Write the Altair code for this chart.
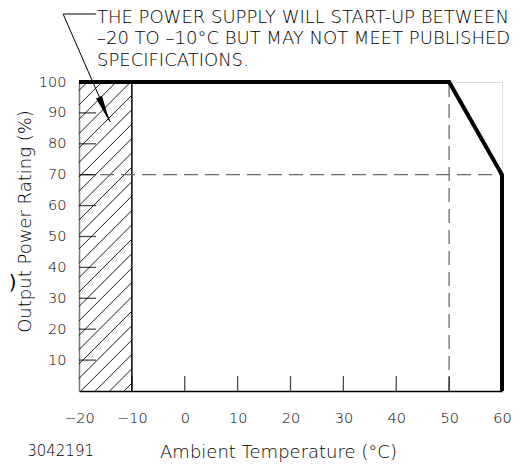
import altair as alt
import pandas as pd

# ---------------- data ----------------
curve_temp = [-20, 50, 60, 60]
curve_power = [100, 100, 70, 0]

x_label_values = [-20, -10, 0, 10, 20, 30, 40, 50, 60]
x_inner_ticks = [-10, 0, 10, 20, 30, 40, 50]
y_label_values = [10, 20, 30, 40, 50, 60, 70, 80, 90, 100]
y_inner_ticks = [10, 20, 30, 40, 50, 60, 70, 80, 90]

startup_range = [-20, -10]   # hatched start-up band (°C)
derate_temp = 50             # derating starts (°C)
derate_power = 70            # rating at 60 °C (%)

note_lines = [
    "THE POWER SUPPLY WILL START-UP BETWEEN",
    "\u201320 TO \u201310°C BUT MAY NOT MEET PUBLISHED",
    "SPECIFICATIONS.",
]
note_x = [-16.6, -16.6, -16.6]
note_y = [120.8, 113.8, 106.8]
leader_x = [-23.0, -14.1]
leader_y = [122.0, 87.1]
leader_shelf_x2 = -16.8
arrow_x, arrow_y = -15.2, 91.1
drawing_no = "3042191"

# ---------------- layout ----------------
W, H = 423, 309
X_DOM = [-20, 60]
Y_DOM = [0, 100]
FONT = "DejaVu Sans"
LIGHT = 200

xs = alt.Scale(domain=X_DOM, nice=False, zero=False)
ys = alt.Scale(domain=Y_DOM, nice=False, zero=False)

x_axis = alt.Axis(
    values=x_label_values, ticks=False, grid=False,
    domainColor="black", domainWidth=1.5,
    labelFont=FONT, labelFontSize=14.5, labelFontWeight=LIGHT, labelColor="black",
    labelPadding=20, labelFlush=False,
    title="Ambient Temperature (°C)", titleFont=FONT, titleFontSize=18,
    titleFontWeight=LIGHT, titleColor="black",
    titleX=199, titleY=61, titleAlign="center", titleBaseline="middle",
)
y_axis = alt.Axis(
    values=y_label_values, ticks=False, grid=False,
    domainColor="#7a7a7a", domainWidth=1.5,
    labelFont=FONT, labelFontSize=14.5, labelFontWeight=LIGHT, labelColor="black",
    labelPadding=13, labelFlush=False,
    title="Output Power Rating (%)", titleFont=FONT, titleFontSize=18,
    titleFontWeight=LIGHT, titleColor="black",
    titleX=-54, titleY=139, titleAngle=270, titleAlign="center",
    titleBaseline="middle",
)


def X(field):
    return alt.X(field, type="quantitative", scale=xs, axis=x_axis)


def Y(field):
    return alt.Y(field, type="quantitative", scale=ys, axis=y_axis)


# hatch lines at 45° (in pixels) across the start-up band
slope = (W / (X_DOM[1] - X_DOM[0])) / (H / (Y_DOM[1] - Y_DOM[0]))  # % per °C
step = 4.66
rows = []
b = -0.6 - step * 12
while b < 100:
    x0 = max(startup_range[0], startup_range[0] + (0 - b) / slope)
    x1 = min(startup_range[1], startup_range[0] + (100 - b) / slope)
    if x1 > x0:
        rows.append(dict(t=x0, t2=x1,
                         p=b + slope * (x0 - startup_range[0]),
                         p2=b + slope * (x1 - startup_range[0])))
    b += step
hatch_df = pd.DataFrame(rows)

hatch = alt.Chart(hatch_df).mark_rule(color="black", strokeWidth=0.9).encode(
    x=X("t"), x2="t2", y=Y("p"), y2="p2")

band_edge = alt.Chart(pd.DataFrame({"t": [startup_range[1]], "p": [0], "p2": [100]})).mark_rule(
    color="black", strokeWidth=1.5).encode(x=X("t"), y=Y("p"), y2="p2")

dash = dict(color="#6a6a6a", strokeWidth=1.3, strokeDash=[14, 7])
h_ref = alt.Chart(pd.DataFrame({"t": [X_DOM[0]], "t2": [X_DOM[1]], "p": [derate_power]})).mark_rule(
    **dash).encode(x=X("t"), x2="t2", y=Y("p"))
v_ref = alt.Chart(pd.DataFrame({"t": [derate_temp], "p": [0], "p2": [100]})).mark_rule(
    **dash).encode(x=X("t"), y=Y("p"), y2="p2")

ytick_df = pd.DataFrame({"p": y_inner_ticks, "t": [X_DOM[0]] * len(y_inner_ticks)})
yticks = alt.Chart(ytick_df).mark_tick(
    orient="horizontal", size=17, thickness=1.3, xOffset=8.5, color="black").encode(
    x=X("t"), y=Y("p"))

xtick_df = pd.DataFrame({"t": x_inner_ticks, "p": [0] * len(x_inner_ticks)})
xticks = alt.Chart(xtick_df).mark_tick(
    orient="vertical", size=15, thickness=1.3, yOffset=-7.5, color="black").encode(
    x=X("t"), y=Y("p"))

curve_df = pd.DataFrame({"t": curve_temp, "p": curve_power, "i": range(len(curve_temp))})
curve = alt.Chart(curve_df).mark_line(
    color="black", strokeWidth=4, strokeJoin="miter", strokeCap="butt").encode(
    x=X("t"), y=Y("p"), order="i:Q")

leader_df = pd.DataFrame({"t": [leader_x[0], leader_x[0]], "t2": [leader_x[1], leader_shelf_x2],
                          "p": [leader_y[0], leader_y[0]], "p2": [leader_y[1], leader_y[0]]})
leader = alt.Chart(leader_df).mark_rule(color="black", strokeWidth=1).encode(
    x=X("t"), x2="t2", y=Y("p"), y2="p2")

arrow = alt.Chart(pd.DataFrame({"t": [arrow_x], "p": [arrow_y]})).mark_point(
    shape="M0,1L-0.24,-1L0.24,-1Z", size=729, angle=336.5, filled=True,
    color="black", opacity=1).encode(x=X("t"), y=Y("p"))

note_df = pd.DataFrame({"t": note_x, "p": note_y, "s": note_lines})
note = alt.Chart(note_df).mark_text(
    align="left", baseline="middle", font=FONT, fontSize=18, fontWeight=LIGHT,
    color="black").encode(x=X("t"), y=Y("p"), text="s:N")

dwg = alt.Chart(pd.DataFrame({"t": [-29.8], "p": [-19.4], "s": [drawing_no]})).mark_text(
    align="left", baseline="middle", font=FONT, fontSize=15, fontWeight=LIGHT,
    color="black").encode(x=X("t"), y=Y("p"), text="s:N")

frag = alt.Chart(pd.DataFrame({"t": [-33.3], "p": [35.0], "s": [")"]})).mark_text(
    align="left", baseline="middle", font=FONT, fontSize=20, fontWeight="normal",
    color="black").encode(x=X("t"), y=Y("p"), text="s:N")

chart = alt.layer(
    hatch, band_edge, h_ref, v_ref, yticks, xticks, curve, leader, arrow, note, dwg, frag
).properties(
    width=W, height=H,
    padding={"left": 71, "top": 74, "right": 21, "bottom": 72},
    autosize=alt.AutoSizeParams(type="none"),
).configure_view(stroke=None).configure(background="white")

chart.save("out.html", embed_options={"renderer": "svg", "actions": False})
